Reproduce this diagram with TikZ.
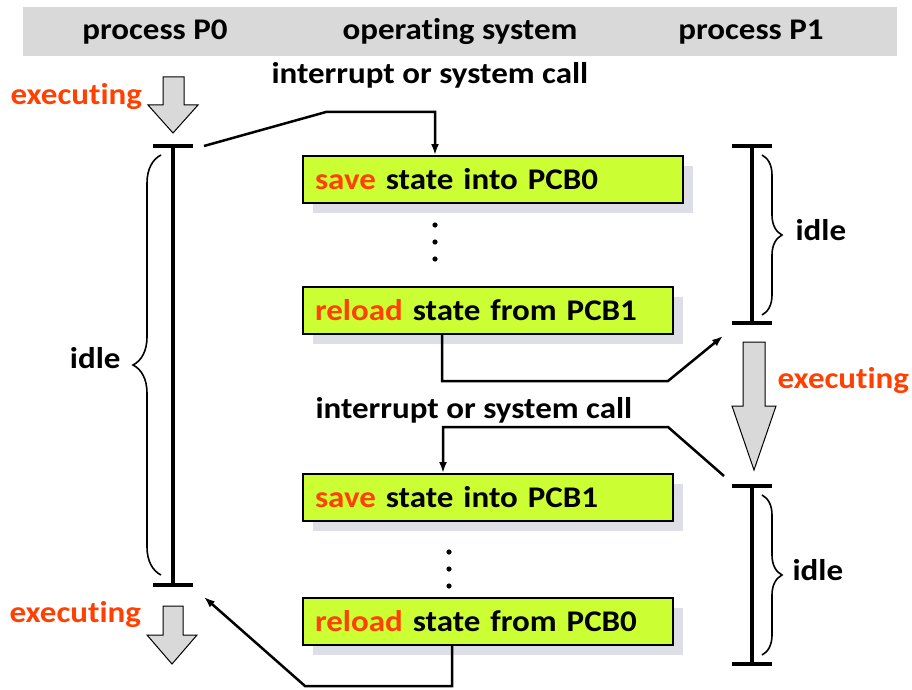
\documentclass[tikz,border=0pt]{standalone}
\usepackage{fontspec}
\setmainfont{Carlito}[FakeStretch=1.1, Ligatures={NoCommon,NoContextual}, Contextuals=NoAlternate]
\usetikzlibrary{arrows.meta,decorations.pathreplacing,shadows}

\definecolor{boxgreen}{RGB}{204,255,51}
\definecolor{execred}{RGB}{255,64,0}
\definecolor{bandgray}{RGB}{217,217,217}
\definecolor{shadowgray}{RGB}{222,222,230}

\tikzset{
  statebox/.style={draw, line width=2pt, fill=boxgreen, anchor=north west,
    minimum height=47, inner xsep=12pt, align=left,
    drop shadow={shadow xshift=10pt, shadow yshift=-10pt, fill=shadowgray, opacity=1}},
  timeline/.style={line width=4.5pt},
  idlebrace/.style={decorate, line width=1.6pt},
  blockarrow/.style={draw, fill=bandgray, line width=1pt, line join=miter},
  link/.style={line width=2.5pt},
  linkarrow/.style={link, -{Latex[length=11pt,width=8pt]}},
  red/.style={text=execred}
}

\begin{document}
\begin{tikzpicture}[x=1pt, y=-1pt, every node/.style={font=\fontsize{30}{34}\bfseries\selectfont}]

  \useasboundingbox (0,0) rectangle (912,690);

  % header band
  \fill[bandgray] (23,7) rectangle (897,56);
  \node[anchor=base] (hdp0) at (155,40) {process P0};
  \node[anchor=base] (hdos) at (460,40) {operat\kern0pt ing system};
  \node[anchor=base] (hdp1) at (751,40) {process P1};

  % operating system steps
  \node[statebox, text width=356] (save0)   at (302,155) {\textcolor{execred}{save} state into PCB0};
  \node[statebox, text width=346] (reload1) at (302,286) {\textcolor{execred}{reload} state from PCB1};
  \node[statebox, text width=346] (save1)   at (302,473) {\textcolor{execred}{save} state into PCB1};
  \node[statebox, text width=346] (reload0) at (302,597) {\textcolor{execred}{reload} state from PCB0};

  \coordinate (dots0) at (435,242);
  \coordinate (dots1) at (449,569);
  \foreach \d in {-17,0,17} {
    \fill ([yshift=\d]dots0) circle (2.6);
    \fill ([yshift=\d]dots1) circle (2.6);
  }

  \node[anchor=base west] (irq0) at (268,84)  {interrupt or system call};
  \node[anchor=base west] (irq1) at (312,418) {interrupt or system call};

  % timelines
  \coordinate (p0top)  at (173,146);
  \coordinate (p0bot)  at (173,585);
  \coordinate (p1top0) at (752,146);
  \coordinate (p1bot0) at (752,323);
  \coordinate (p1top1) at (752,486);
  \coordinate (p1bot1) at (752,664);

  \draw[timeline] (p0top) -- (p0bot);
  \draw[timeline] (p1top0) -- (p1bot0);
  \draw[timeline] (p1top1) -- (p1bot1);
  \foreach \p in {p0top,p0bot,p1top0,p1bot0,p1top1,p1bot1}
    \draw[timeline] ([xshift=-20]\p) -- ([xshift=20]\p);

  % idle braces
  \draw[idlebrace, decoration={brace, amplitude=28pt}] (161,575) -- (161,155);
  \draw[idlebrace, decoration={brace, amplitude=20pt}] (762,155) -- (762,315);
  \draw[idlebrace, decoration={brace, amplitude=20pt}] (762,495) -- (762,655);
  \node[anchor=base east] (idle0)  at (124,368) {idle};
  \node[anchor=base west] (idle1a) at (792,240) {idle};
  \node[anchor=base west] (idle1b) at (789,580) {idle};

  % executing arrows
  \draw[blockarrow] (163,77) -- (184,77) -- (184,105) -- (198,105) -- (173,133) -- (148,105) -- (163,105) -- cycle;
  \draw[blockarrow] (163,606) -- (183,606) -- (183,635) -- (197,635) -- (172,664) -- (147,635) -- (163,635) -- cycle;
  \draw[blockarrow] (743,342) -- (765,342) -- (765,406) -- (776,406) -- (754,470) -- (732,406) -- (743,406) -- cycle;
  \node[red, anchor=base west] (exec0) at (7,105)  {execut\kern0pt ing};
  \node[red, anchor=base west] (exec1) at (774,388) {execut\kern0pt ing};
  \node[red, anchor=base west] (exec2) at (6,622)  {execut\kern0pt ing};

  % context switch connectors
  \coordinate (bend0) at (326,112);
  \coordinate (bend1) at (668,381);
  \coordinate (p1in)  at (723,336);
  \coordinate (p1out) at (724,476);
  \coordinate (bend2) at (668,427);
  \coordinate (bend3) at (305,686);
  \coordinate (p0in)  at (204,597);

  \draw[linkarrow] ([xshift=31]p0top) -- (bend0) -| (save0.north -| dots0);
  \draw[linkarrow] ([xshift=140]reload1.south west) |- (bend1) -- (p1in);
  \draw[linkarrow] (p1out) -- (bend2) -| ([xshift=141]save1.north west);
  \draw[linkarrow] ([xshift=150]reload0.south west) |- (bend3) -- (p0in);

\end{tikzpicture}
\end{document}
